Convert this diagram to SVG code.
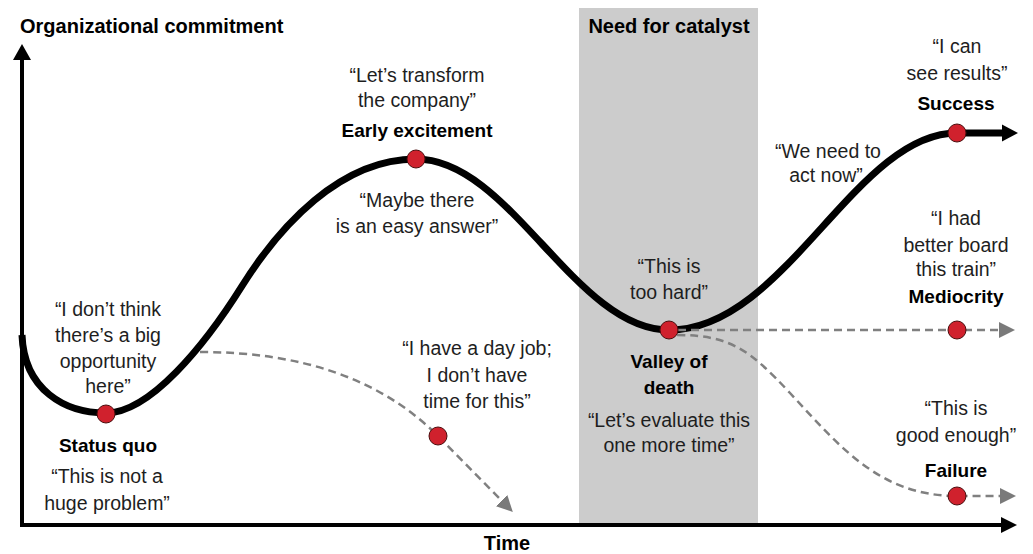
<svg xmlns="http://www.w3.org/2000/svg" width="1033" height="554" viewBox="0 0 1033 554">
<style>
text{font-family:"Liberation Sans",Arial,sans-serif;text-anchor:middle}
.q{font-size:19.5px;fill:#1e1e1e}
.l{font-size:19px;font-weight:bold;fill:#000}
.h{font-size:20px;font-weight:bold;fill:#000}
.dot{fill:#d0212d;stroke:#4a0d0d;stroke-width:1}
.curve{fill:none;stroke:#000;stroke-width:7}
.dash{fill:none;stroke:#808080;stroke-width:2.5;stroke-dasharray:8 5}
.axis{fill:none;stroke:#000;stroke-width:4}
</style>
<defs>
<marker id="ga" markerUnits="userSpaceOnUse" markerWidth="16" markerHeight="16" refX="2" refY="8" orient="auto">
<path d="M0,0 L16,8 L0,16 z" fill="#7a7a7a"/>
</marker>
</defs>
<rect x="0" y="0" width="1033" height="554" fill="#fff"/>
<g id="catalyst-zone">
<rect x="579" y="8" width="179" height="515" fill="#cccccc"/>
<text class="h" x="669" y="33">Need for catalyst</text>
</g>
<g id="axes">
<path class="axis" d="M22,527 L22,58 M20,525 L1002,525"/>
<path d="M22,44 L31,60 L13,60 z" fill="#000"/>
<path d="M1017,525 L1001,517 L1001,533 z" fill="#000"/>
<text class="h" x="20" y="33" style="text-anchor:start">Organizational commitment</text>
<text class="h" x="507" y="550">Time</text>
</g>
<g id="connectors">
<path class="curve" d="M22,335 C24,390 65,413 106,413 C150,413 205,345 242,286 C279,227 340,159 416,159 C510,159 575,330 669,330 C785,330 855,133 957,133 L1003,133"/>
<path d="M1018,133 L1002,124.5 L1002,141.5 z" fill="#000"/>
<path class="dash" d="M200,352 C300,352 380,378 438,436 L503,502" marker-end="url(#ga)"/>
<path class="dash" d="M678,330 L1001,330" marker-end="url(#ga)"/>
<path class="dash" d="M677,335 C730,335 750,350 790,393 C840,447 880,496 957,496 L1002,496" marker-end="url(#ga)"/>
</g>
<g id="status-quo">
<text class="q" x="108" y="316">“I don’t think</text>
<text class="q" x="108" y="342">there’s a big</text>
<text class="q" x="108" y="368">opportunity</text>
<text class="q" x="108" y="393">here”</text>
<circle class="dot" cx="106" cy="414" r="9"/>
<text class="l" x="108" y="452">Status quo</text>
<text class="q" x="107" y="483">“This is not a</text>
<text class="q" x="107" y="510">huge problem”</text>
</g>
<g id="early-excitement">
<text class="q" x="417" y="82">“Let’s transform</text>
<text class="q" x="417" y="107">the company”</text>
<text class="l" x="417" y="137">Early excitement</text>
<circle class="dot" cx="416" cy="159" r="9"/>
<text class="q" x="417" y="207">“Maybe there</text>
<text class="q" x="417" y="233">is an easy answer”</text>
</g>
<g id="day-job">
<text class="q" x="477" y="355">“I have a day job;</text>
<text class="q" x="477" y="382">I don’t have</text>
<text class="q" x="477" y="408">time for this”</text>
<circle class="dot" cx="438" cy="436" r="9"/>
</g>
<g id="valley-of-death">
<text class="q" x="669" y="273">“This is</text>
<text class="q" x="669" y="299">too hard”</text>
<circle class="dot" cx="669" cy="330" r="9"/>
<text class="l" x="669" y="368">Valley of</text>
<text class="l" x="669" y="394">death</text>
<text class="q" x="669" y="427">“Let’s evaluate this</text>
<text class="q" x="669" y="452">one more time”</text>
</g>
<g id="act-now">
<text class="q" x="828" y="158">“We need to</text>
<text class="q" x="826" y="182">act now”</text>
</g>
<g id="success">
<text class="q" x="957" y="53">“I can</text>
<text class="q" x="957" y="80">see results”</text>
<text class="l" x="956" y="110">Success</text>
<circle class="dot" cx="957" cy="133" r="9"/>
</g>
<g id="mediocrity">
<text class="q" x="956" y="225">“I had</text>
<text class="q" x="956" y="252">better board</text>
<text class="q" x="956" y="276">this train”</text>
<text class="l" x="956" y="303">Mediocrity</text>
<circle class="dot" cx="957" cy="330" r="9"/>
</g>
<g id="failure">
<text class="q" x="956" y="415">“This is</text>
<text class="q" x="956" y="442">good enough”</text>
<text class="l" x="956" y="477">Failure</text>
<circle class="dot" cx="957" cy="496" r="9"/>
</g>
</svg>
